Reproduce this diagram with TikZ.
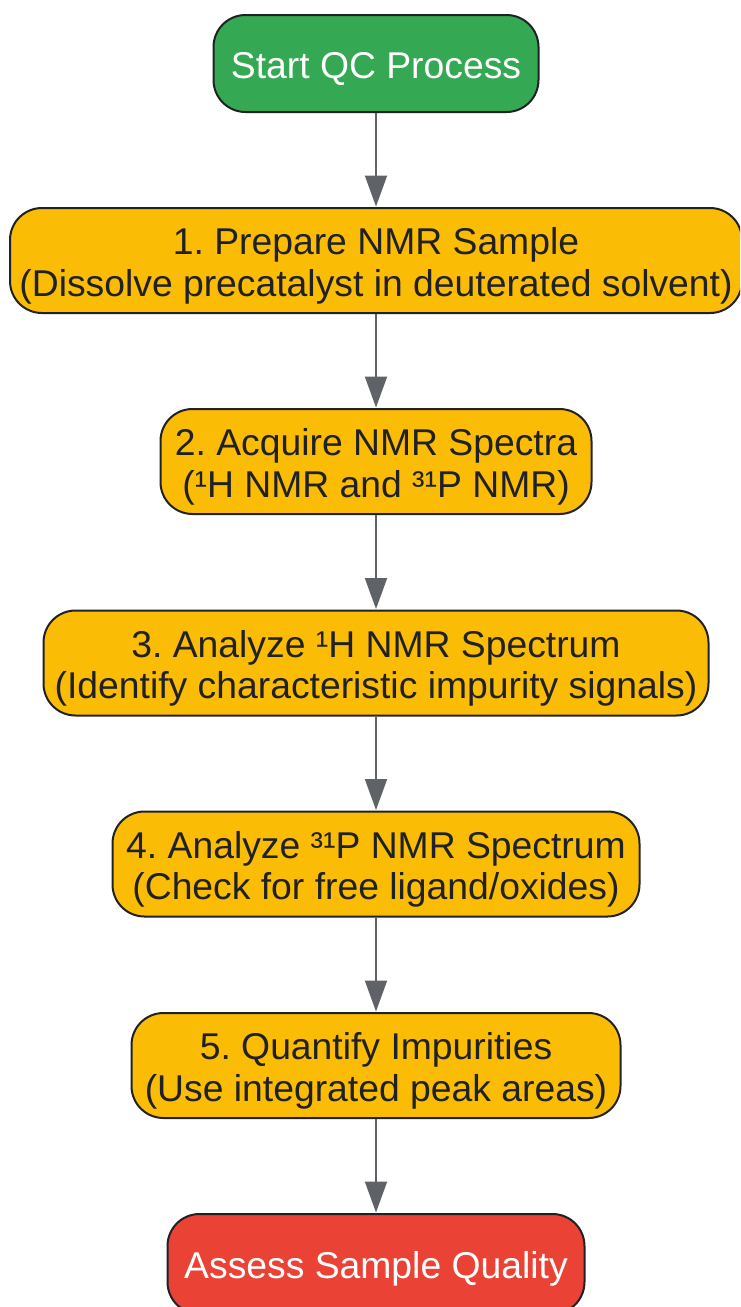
\documentclass[tikz,border=0pt]{standalone}
\usepackage{fontspec}
\setmainfont{Liberation Sans}
\usetikzlibrary{arrows.meta}
\definecolor{gr}{HTML}{34A853}
\definecolor{yl}{HTML}{FBBC05}
\definecolor{rd}{HTML}{EA4335}
\definecolor{ink}{HTML}{202124}
\definecolor{conn}{HTML}{5F6368}
\tikzset{x=1pt,y=-1pt,
 box/.style={draw=ink,line width=2pt,rounded corners=32pt,inner sep=0pt,align=center,font=\frenchspacing\fontsize{37.3}{41.5}\selectfont,text height=38pt,text depth=9pt},
 stepbox/.style={box,fill=yl,text=ink,text height=80pt,text depth=9pt},
 conn/.style={draw=conn,line width=2pt,-{Triangle[length=31pt,width=22pt,color=conn]},shorten >=0.5pt}}
\begin{document}
\begin{tikzpicture}
\useasboundingbox (0,0) rectangle (740,1307);
\clip (0,0) rectangle (740,1307);
\node[box,fill=gr,text=white,minimum width=325pt,minimum height=97pt] (a) at (376,63.5) {Start QC Process};
\node[stepbox,minimum width=732pt,minimum height=105pt] (b) at (376,260.5) {1. Prepare NMR Sample\\(Dissolve precatalyst in deuterated solvent)};
\node[stepbox,minimum width=431pt,minimum height=105pt] (c) at (376,461.5) {2. Acquire NMR Spectra\\(¹H NMR and ³¹P NMR)};
\node[stepbox,minimum width=665pt,minimum height=105pt] (d) at (376,663) {3. Analyze ¹H NMR Spectrum\\(Identify characteristic impurity signals)};
\node[stepbox,minimum width=527pt,minimum height=105pt] (e) at (376,864) {4. Analyze ³¹P NMR Spectrum\\(Check for free ligand/oxides)};
\node[stepbox,minimum width=489pt,minimum height=105pt] (f) at (376,1065.5) {5. Quantify Impurities\\(Use integrated peak areas)};
\node[box,fill=rd,text=white,minimum width=417pt,minimum height=100pt] (g) at (376,1264) {Assess Sample Quality};
\draw[conn] (a) -- (b);
\draw[conn] (b) -- (c);
\draw[conn] (c) -- (d);
\draw[conn] (d) -- (e);
\draw[conn] (e) -- (f);
\draw[conn] (f) -- (g);
\end{tikzpicture}
\end{document}
